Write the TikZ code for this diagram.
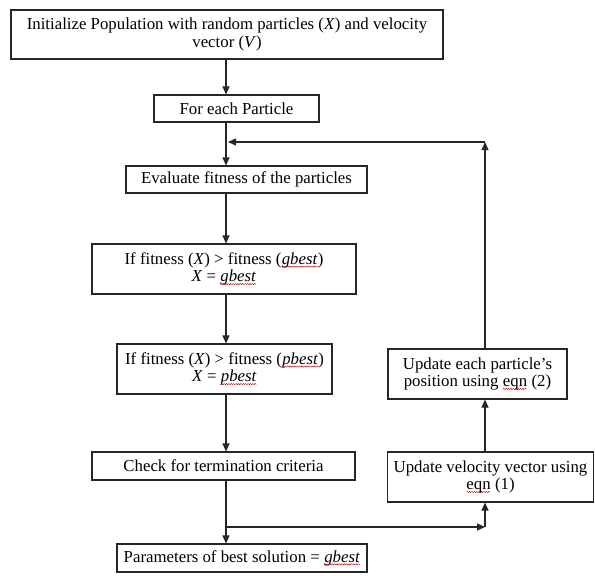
\documentclass[tikz,border=0pt]{standalone}
\usepackage{fontspec}
\setmainfont{Liberation Serif}
\usetikzlibrary{arrows.meta,decorations.pathmorphing}
\newcommand{\wavy}[1]{\tikz[baseline=(w.base),x=1cm,y=1cm]{\node[inner sep=0pt,outer sep=0pt,minimum width=0pt,minimum height=0pt,draw=none,line width=0.4pt] (w) {#1};\draw[red!75!black,line width=0.4pt,decorate,decoration={snake,amplitude=0.6pt,segment length=2.4pt}] ([yshift=-2.2pt]w.base west) -- ([yshift=-2.2pt]w.base east);}}
\begin{document}
\begin{tikzpicture}[x=1pt,y=-1pt,
  box/.style={draw=black!85,line width=1.1pt,rectangle,inner sep=0pt,align=center,font=\fontsize{16.8}{17.5}\selectfont},
  arr/.style={draw=black!85,line width=1.1pt,-{Triangle[length=8pt,width=7pt]}},
  ln/.style={draw=black!85,line width=1.1pt}]
\useasboundingbox (0,0) rectangle (595,576);
\fill[white] (0,0) rectangle (595,576);
\node[box,minimum width=432pt,minimum height=49pt] (b1) at (227,34.5) {Initialize Population with random particles (\textit{X}) and velocity\\ vector (\textit{V})};
\node[box,minimum width=165pt,minimum height=27pt] (b2) at (236.5,108.5) {For each Particle};
\node[box,minimum width=241pt,minimum height=27pt] (b3) at (246.5,179.5) {Evaluate fitness of the particles};
\node[box,minimum width=264pt,minimum height=50pt] (b4) at (224,269) {If fitness (\textit{X}) > fitness (\wavy{\textit{gbest}})\\ \textit{X} = \wavy{\textit{gbest}}};
\node[box,minimum width=215pt,minimum height=50pt] (b5) at (224.5,369) {If fitness (\textit{X}) > fitness (\wavy{\textit{pbest}})\\ \textit{X} = \wavy{\textit{pbest}}};
\node[box,minimum width=263pt,minimum height=28pt] (b6) at (223.5,466) {Check for termination criteria};
\node[box,minimum width=250pt,minimum height=28pt] (b7) at (242,558) {Parameters of best solution = \wavy{\textit{gbest}}};
\node[box,minimum width=206pt,minimum height=50pt] (vel) at (490.5,477) {Update velocity vector using\\ \wavy{eqn} (1)};
\node[box,minimum width=179pt,minimum height=50pt] (pos) at (477.5,374) {Update each particle's\\ position using \wavy{eqn} (2)};
\coordinate (spine) at (226,0);
\coordinate (loopx) at (485,0);
\coordinate (top) at (485,142);
\coordinate (junc) at (226,527);
\coordinate (corner) at (485,527);
\draw[arr] (b1.south -| spine) -- (b2.north -| spine);
\draw[ln] (b2.south -| spine) -- (spine |- top);
\draw[arr] (spine |- top) -- (b3.north -| spine);
\draw[arr] (b3.south -| spine) -- (b4.north -| spine);
\draw[arr] (b4.south -| spine) -- (b5.north -| spine);
\draw[arr] (b5.south -| spine) -- (b6.north -| spine);
\draw[arr] (b6.south -| spine) -- (b7.north -| spine);
\draw[arr] (junc) -- (corner);
\draw[arr] (corner) -- (vel.south -| loopx);
\draw[arr] (vel.north -| loopx) -- (pos.south -| loopx);
\draw[arr] (pos.north -| loopx) -- (top);
\draw[arr] (top) -- ([xshift=2pt]spine |- top);
\end{tikzpicture}
\end{document}
